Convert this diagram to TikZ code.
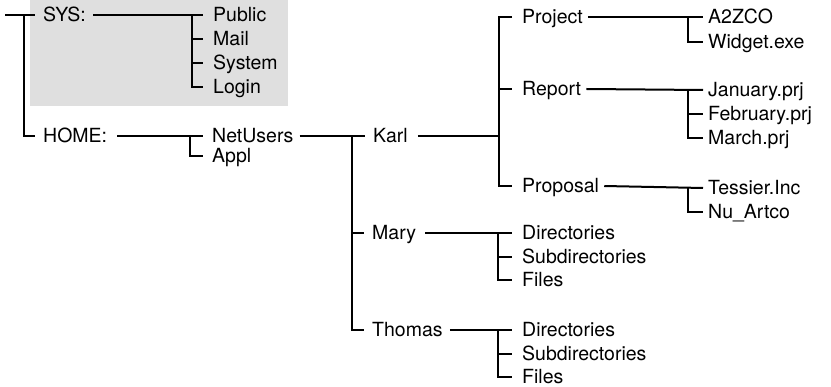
\documentclass[tikz,border=0pt]{standalone}
\usepackage{fontspec}
\setmainfont{TeX Gyre Heros}
\usepackage{tikz}
\usetikzlibrary{backgrounds}
\definecolor{sysgray}{HTML}{DFDFDF}

\begin{document}
\begin{tikzpicture}[x=1pt,y=-1pt,
 entry/.style={anchor=west,inner sep=0pt,text height=14pt,text depth=0pt,font=\fontsize{19.5}{24}\selectfont},
 branch/.style={line width=2pt,draw=black},
 rail/.style={line width=2.7pt,draw=black}
]
\useasboundingbox (0,0) rectangle (831,387);
% shaded volume
\fill[sysgray] (30,0) rectangle (288,106);

% volumes
\coordinate (root) at (5,15);
\node[entry] (sys) at (43,15) {SYS:};
\node[entry] (home) at (43,136) {HOME:};
\node[entry] (public) at (213,15) {Public};
\node[entry] (mail) at (213,39) {Mail};
\node[entry] (system) at (213,63) {System};
\node[entry] (login) at (213,87) {Login};
\node[entry] (netusers) at (212,136) {NetUsers};
\node[entry] (appl) at (212,156) {Appl};
% users
\node[entry] (karl) at (373,136) {Karl};
\node[entry] (mary) at (372,233) {Mary};
\node[entry] (thomas) at (372,330) {Thomas};
\node[entry] (project) at (522,17) {Project};
\node[entry] (report) at (522,89) {Report};
\node[entry] (proposal) at (522,186) {Proposal};
\node[entry] (dira) at (522,233) {Directories};
\node[entry] (suba) at (522,257) {Subdirectories};
\node[entry] (filesa) at (522,280) {Files};
\node[entry] (dirb) at (522,330) {Directories};
\node[entry] (subb) at (522,354) {Subdirectories};
\node[entry] (filesb) at (522,377) {Files};
% files
\node[entry] (a2zco) at (708,17) {A2ZCO};
\node[entry] (widget) at (708,42) {Widget.exe};
\node[entry] (january) at (708,90) {January.prj};
\node[entry] (february) at (708,114) {February.prj};
\node[entry] (march) at (708,138) {March.prj};
\node[entry] (tessier) at (708,188) {Tessier.Inc};
\node[entry] (nuartco) at (708,212) {Nu\_Artco};

% root
\draw[branch] (root) -- ([xshift=-8pt]sys.west);
\draw[rail] ([xshift=-19pt]sys.west) |- ([xshift=-8pt]home.west);
% SYS:
\draw[branch] ([xshift=7pt]sys.east) -- ([xshift=-10pt]public.west);
\draw[rail] ([xshift=-21pt]public.west) |- ([xshift=-10pt]login.west);
\foreach \n in {mail,system}
  \draw[rail] ([xshift=-21pt]\n.west) -- ([xshift=-10pt]\n.west);
% HOME:
\draw[branch] ([xshift=10pt]home.east) -- ([xshift=-9pt]netusers.west);
\draw[rail] ([xshift=-22pt]netusers.west) |- ([xshift=-9pt]appl.west);
\draw[branch] ([xshift=6pt]netusers.east) -- ([xshift=-8pt]karl.west);
\draw[rail] ([xshift=-21pt]karl.west) |- ([xshift=-8pt]thomas.west);
\draw[rail] ([xshift=-21pt]mary.west) -- ([xshift=-8pt]mary.west);
% Karl
\coordinate (karlrail) at ([xshift=-23pt]project.west);
\draw[branch] ([xshift=10pt]karl.east) -- (karlrail |- karl.east);
\draw[rail] ([xshift=-10pt]project.west) -| ([xshift=-23pt]proposal.west) -- ([xshift=-10pt]proposal.west);
\draw[rail] ([xshift=-23pt]report.west) -- ([xshift=-10pt]report.west);
\draw[branch] ([xshift=5pt]project.east) -- ([xshift=-5pt]a2zco.west);
\draw[rail] ([xshift=-20pt]a2zco.west) |- ([xshift=-5pt]widget.west);
\draw[branch] ([xshift=5pt]report.east) -- ([xshift=-5pt]january.west);
\draw[rail] ([xshift=-20pt]january.west) |- ([xshift=-5pt]march.west);
\draw[rail] ([xshift=-20pt]february.west) -- ([xshift=-5pt]february.west);
\draw[branch] ([xshift=5pt]proposal.east) -- ([xshift=-5pt]tessier.west);
\draw[rail] ([xshift=-20pt]tessier.west) |- ([xshift=-5pt]nuartco.west);
% Mary and Thomas
\draw[branch] ([xshift=9pt]mary.east) -- ([xshift=-10pt]dira.west);
\draw[rail] ([xshift=-24pt]dira.west) |- ([xshift=-10pt]filesa.west);
\draw[rail] ([xshift=-24pt]suba.west) -- ([xshift=-10pt]suba.west);
\draw[branch] ([xshift=7pt]thomas.east) -- ([xshift=-10pt]dirb.west);
\draw[rail] ([xshift=-24pt]dirb.west) |- ([xshift=-10pt]filesb.west);
\draw[rail] ([xshift=-24pt]subb.west) -- ([xshift=-10pt]subb.west);
\end{tikzpicture}
\end{document}
